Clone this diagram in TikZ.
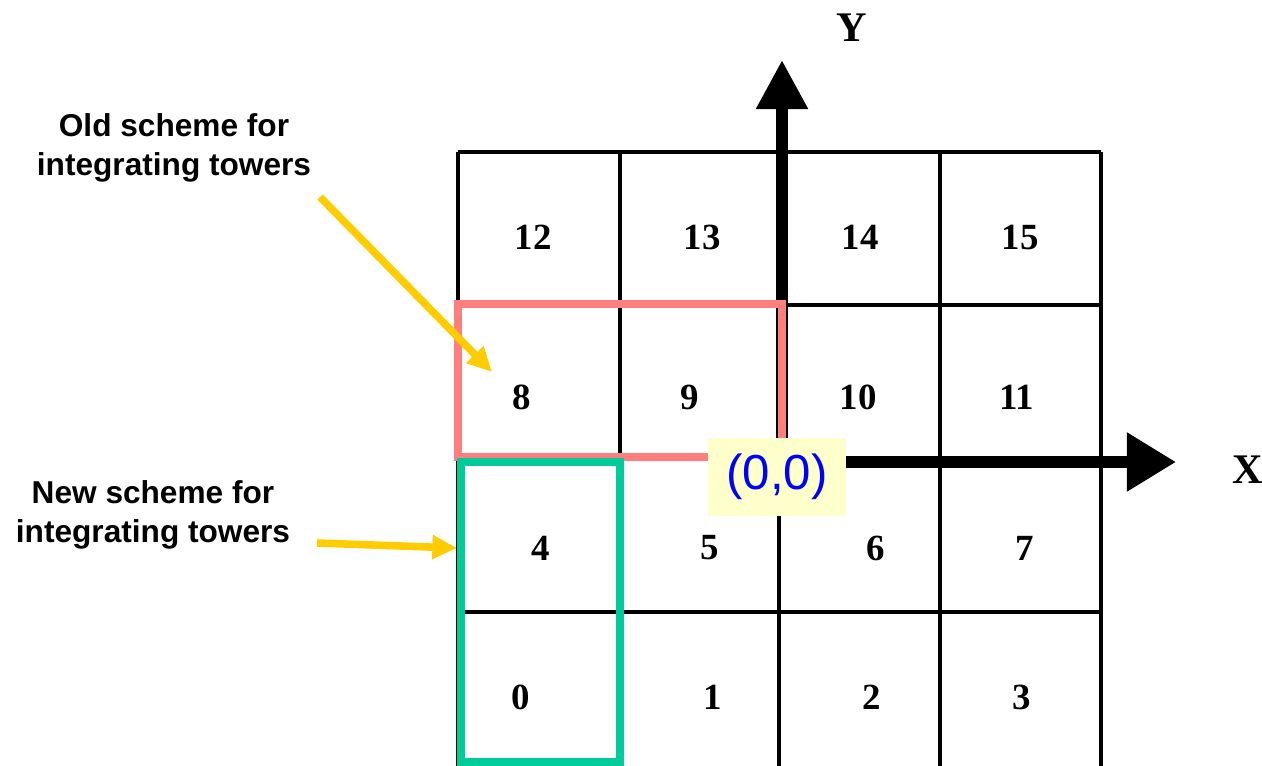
\documentclass[tikz,border=0pt]{standalone}
\usepackage{fontspec}
\setmainfont{Liberation Serif}
\newfontfamily\arialfont{Liberation Sans}
\usepackage{xcolor}
\usetikzlibrary{arrows.meta}
\definecolor{oldred}{HTML}{FF7F7F}
\definecolor{newgreen}{HTML}{00CC99}
\definecolor{hintyellow}{HTML}{FFCC00}
\definecolor{notefill}{HTML}{FFFFCC}

\begin{document}
\begin{tikzpicture}[
    x=0.02cm, y=-0.02cm,
    gridline/.style={line width=2.2pt, black},
    axisline/.style={line width=6.5pt, black},
    cellnum/.style={font=\bfseries\fontsize{21}{21}\selectfont, inner sep=0pt},
    axislbl/.style={font=\bfseries\fontsize{24}{24}\selectfont, inner sep=0pt},
    note/.style={font=\arialfont\bfseries\fontsize{18}{22.5}\selectfont, align=center, inner sep=0pt},
    yarr/.style={line width=4.3pt, hintyellow, -{Triangle[length=14pt, width=13pt]}},
    scheme/.style={line width=4.5pt}
]
\useasboundingbox (0,0) rectangle (1262,765);

% grid of towers
\foreach \gx in {458,620,779,940,1101}
  \draw[gridline] (\gx,152) -- (\gx,775);
\foreach \gy in {152,305,458,612}
  \draw[gridline] (458,\gy) -- (1101,\gy);

% tower numbers
\node[cellnum] (c12) at (533,237) {12};
\node[cellnum] (c13) at (702,237) {13};
\node[cellnum] (c14) at (860,237) {14};
\node[cellnum] (c15) at (1020,237) {15};
\node[cellnum] (c8)  at (522,397) {8};
\node[cellnum] (c9)  at (690,397) {9};
\node[cellnum] (c10) at (858,397) {10};
\node[cellnum] (c11) at (1017,397) {11};
\node[cellnum] (c4)  at (541,548) {4};
\node[cellnum] (c5)  at (710,548) {5};
\node[cellnum] (c6)  at (876,548) {6};
\node[cellnum] (c7)  at (1025,548) {7};
\node[cellnum] (c0)  at (521,697) {0};
\node[cellnum] (c1)  at (713,697) {1};
\node[cellnum] (c2)  at (872,697) {2};
\node[cellnum] (c3)  at (1022,697) {3};

% axes
\coordinate (origin) at (782,462);
\coordinate (xend)   at (1176,462);
\coordinate (yend)   at (782,60);
\draw[axisline, -{Triangle[length=28pt, width=32pt]}] (origin) -- (xend);
\draw[axisline, -{Triangle[length=28pt, width=28pt]}] (origin) -- (yend);
\node[axislbl] (xlbl) at (1248,470) {X};
\node[axislbl] (ylbl) at (852,28)   {Y};

% old and new schemes
\draw[scheme, oldred]   (458,304) rectangle (782,457);
\draw[scheme, newgreen] (461,462) rectangle (620,762);

\node[draw=none, fill=notefill, text=blue, font=\arialfont\fontsize{28}{28}\selectfont,
      minimum width=2.76cm, minimum height=1.56cm, inner sep=0pt] (orig) at (777,477) {(0,0)};

% labels and pointers
\node[note] (oldlbl) at (174,148) {Old scheme for\\integrating towers};
\node[note] (newlbl) at (153,515) {New scheme for\\integrating towers};
\coordinate (oldtail) at (320,197);
\coordinate (oldtip)  at (492,372);
\coordinate (newtail) at (317,543);
\coordinate (newtip)  at (457,548);
\draw[yarr] (oldtail) -- (oldtip);
\draw[yarr] (newtail) -- (newtip);
\end{tikzpicture}
\end{document}
